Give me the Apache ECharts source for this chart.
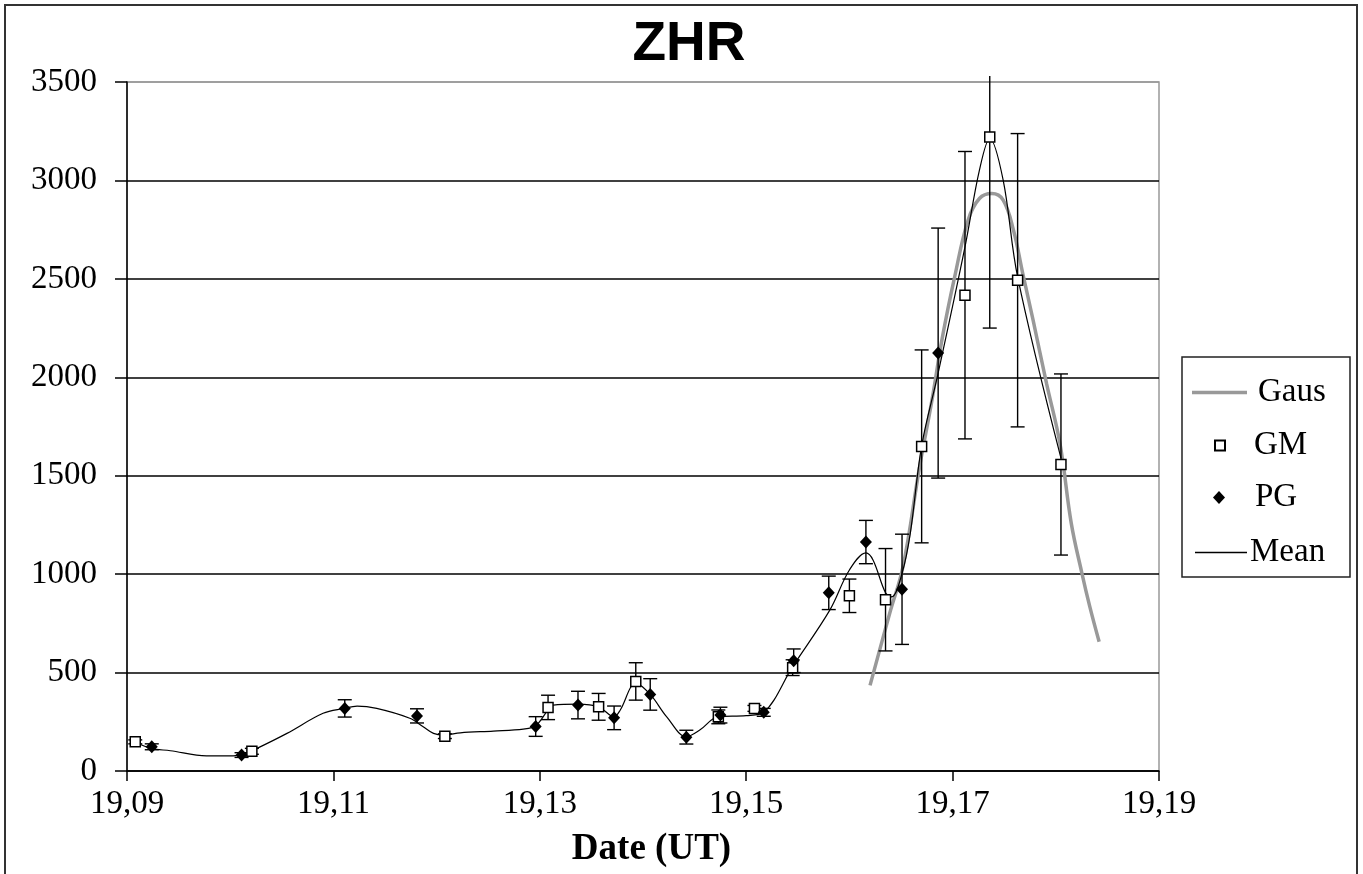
<!DOCTYPE html>
<html><head><meta charset="utf-8">
<script src="https://cdn.jsdelivr.net/npm/echarts@6/dist/echarts.min.js"></script>
<style>html,body{margin:0;padding:0;background:#fff}#c{width:1363px;height:874px}</style>
</head><body><div id="c"></div>
<script>
const titleText = 'ZHR';
const xAxisName = 'Date (UT)';
const xMin = 19.09, xMax = 19.19, xStep = 0.02;
const yMin = 0, yMax = 3500, yStep = 500;

// GM (open squares) with error bars
const gmX   = [19.0908, 19.1021, 19.1208, 19.1308, 19.1357, 19.1393, 19.1473, 19.1508, 19.1545, 19.1600, 19.1635, 19.1670, 19.1712, 19.1736, 19.1763, 19.1805];
const gmY   = [148, 100, 177, 323, 326, 455, 275, 318, 525, 890, 870, 1649, 2417, 3220, 2493, 1557];
const gmErr = [10, 15, 12, 62, 68, 95, 35, 15, 40, 85, 260, 490, 730, 970, 745, 460];

// PG (filled diamonds) with error bars
const pgX   = [19.0924, 19.1011, 19.1111, 19.1181, 19.1296, 19.1337, 19.1372, 19.1407, 19.1442, 19.1475, 19.1517, 19.1546, 19.1580, 19.1616, 19.1651, 19.1686];
const pgY   = [123, 81, 318, 280, 226, 335, 270, 389, 172, 284, 298, 560, 905, 1163, 923, 2123];
const pgErr = [15, 12, 44, 36, 50, 70, 60, 80, 35, 40, 20, 60, 85, 110, 280, 635];

// Gaus fit curve
const gausX = [19.1620, 19.1639, 19.1652, 19.1668, 19.1680, 19.1690, 19.1702, 19.1715, 19.1726, 19.1738, 19.1749, 19.1759, 19.1768, 19.1778, 19.1791, 19.1804, 19.1815, 19.1825, 19.1833, 19.1842];
const gausY = [435, 800, 1040, 1545, 1884, 2200, 2510, 2798, 2908, 2933, 2900, 2747, 2527, 2290, 1969, 1664, 1258, 1012, 834, 657];

// Mean curve
const meanX = [19.0908, 19.0923, 19.0942, 19.0977, 19.1003, 19.1013, 19.1026, 19.1055, 19.1090, 19.1110, 19.1123, 19.1142, 19.1174, 19.1187, 19.1197, 19.1207, 19.1223, 19.1255, 19.1284, 19.1296, 19.1308, 19.1313, 19.1337, 19.1357, 19.1372, 19.1378, 19.1393, 19.1407, 19.1423, 19.1442, 19.1455, 19.1473, 19.1500, 19.1517, 19.1545, 19.1581, 19.1600, 19.1616, 19.1623, 19.1635, 19.1641, 19.1651, 19.1659, 19.1670, 19.1686, 19.1712, 19.1726, 19.1736, 19.1749, 19.1763, 19.1805];
const meanY = [147, 115, 103, 77, 77, 86, 115, 191, 293, 318, 330, 318, 268, 225, 191, 183, 194, 203, 213, 230, 310, 335, 340, 326, 275, 310, 445, 389, 275, 174, 208, 276, 281, 298, 530, 817, 1021, 1108, 1071, 905, 885, 1004, 1207, 1652, 2021, 2662, 3052, 3213, 3001, 2510, 1589];

const serif = 'Liberation Serif, Times New Roman, serif';

function pairs(xs, ys){ return xs.map((x,i)=>[x, ys[i]]); }

function errorSeries(name, xs, ys, es){
  return {
    type: 'custom', name: name + ' err', silent: true, z: 2,
    encode: {x: 0, y: [1, 2]},
    data: xs.map((x,i)=>[x, ys[i]-es[i], ys[i]+es[i]]),
    renderItem: function(params, api){
      const x = api.value(0), lo = api.value(1), hi = api.value(2);
      const pLo = api.coord([x, lo]);
      const pHi = api.coord([x, hi]);
      const limit = params.coordSys.y - 6;
      let yHi = pHi[1], capTop = true;
      if (yHi < limit){ yHi = limit; capTop = false; }
      const w = 7, st = {stroke: '#000', lineWidth: 1.4};
      const ch = [
        {type:'line', shape:{x1:pLo[0], y1:pLo[1], x2:pLo[0], y2:yHi}, style:st},
        {type:'line', shape:{x1:pLo[0]-w, y1:pLo[1], x2:pLo[0]+w, y2:pLo[1]}, style:st}
      ];
      if (capTop) ch.push({type:'line', shape:{x1:pLo[0]-w, y1:yHi, x2:pLo[0]+w, y2:yHi}, style:st});
      return {type:'group', children: ch};
    }
  };
}

const chart = echarts.init(document.getElementById('c'), null, {renderer:'canvas'});
const legendText = {fontFamily:serif, fontSize:33, color:'#000'};
const legendBase = {orient:'vertical', padding:0, selectedMode:false, itemGap:0};
chart.setOption({
  animation: false,
  backgroundColor: '#fff',
  title: {text: titleText, left: 684, textAlign: 'center', top: 12,
    textStyle: {fontFamily: 'Liberation Sans, Arial, sans-serif', fontWeight: 'bold', fontSize: 55, color: '#000'}},
  grid: {left: 127, right: 204, top: 82, bottom: 103, show: true, borderColor: '#999', borderWidth: 1.5, backgroundColor: 'transparent'},
  graphic: [
    {type:'rect', shape:{x:5, y:5, width:1352, height:880}, style:{fill:'none', stroke:'#333', lineWidth:2}, z:-1, silent:true},
    {type:'rect', shape:{x:1182, y:357, width:168, height:220}, style:{fill:'#fff', stroke:'#222', lineWidth:1.5}, z:-1, silent:true}
  ],
  legend: [
    Object.assign({}, legendBase, {data:[{name:'Gaus', icon:'rect'}], left:1192, top:376, itemWidth:55, itemHeight:3.5,
      textStyle:Object.assign({}, legendText, {padding:[0,0,0,6]})}),
    Object.assign({}, legendBase, {data:[{name:'GM', icon:'rect'}], left:1214, top:429, itemWidth:10, itemHeight:10,
      textStyle:Object.assign({}, legendText, {padding:[0,0,0,24]})}),
    Object.assign({}, legendBase, {data:[{name:'PG', icon:'diamond'}], left:1213, top:481, itemWidth:12, itemHeight:13,
      textStyle:Object.assign({}, legendText, {padding:[0,0,0,25]})}),
    Object.assign({}, legendBase, {data:[{name:'Mean', icon:'rect'}], left:1195, top:536, itemWidth:52, itemHeight:1.5,
      textStyle:Object.assign({}, legendText, {padding:[0,0,0,-2]})})
  ],
  xAxis: {
    type: 'value', min: xMin, max: xMax, interval: xStep,
    name: xAxisName, nameLocation: 'middle', nameGap: 60,
    nameTextStyle: {fontFamily: serif, fontWeight: 'bold', fontSize: 37, color: '#000', padding: [0,0,0,17]},
    axisLine: {show: true, onZero: false, lineStyle: {color: '#000', width: 1.5}},
    axisTick: {show: true, inside: false, length: 10, lineStyle: {color: '#000', width: 1.5}},
    axisLabel: {fontFamily: serif, fontSize: 33, color: '#000', margin: 17,
      formatter: v => v.toFixed(2).replace('.', ',')},
    splitLine: {show: false}
  },
  yAxis: {
    type: 'value', min: yMin, max: yMax, interval: yStep,
    axisLine: {show: true, lineStyle: {color: '#000', width: 1.5}},
    axisTick: {show: true, inside: false, length: 12, lineStyle: {color: '#000', width: 1.5}},
    axisLabel: {fontFamily: serif, fontSize: 33, color: '#000', margin: 30, formatter: v => String(v)},
    splitLine: {show: true, lineStyle: {color: ['#000','#000','#000','#000','#000','#000','#000','#999'], width: 1.5}}
  },
  series: [
    {name:'Gaus', type:'line', data: pairs(gausX, gausY), smooth: 0.4, symbol:'none', z:1,
      lineStyle:{color:'#999', width:3.5}, itemStyle:{color:'#999'}},
    errorSeries('GM', gmX, gmY, gmErr),
    errorSeries('PG', pgX, pgY, pgErr),
    {name:'Mean', type:'line', data: pairs(meanX, meanY), smooth: 0.35, symbol:'none', z:3,
      lineStyle:{color:'#000', width:1.2}, itemStyle:{color:'#000'}},
    {name:'GM', type:'scatter', data: pairs(gmX, gmY), symbol:'rect', symbolSize:10, z:4,
      itemStyle:{color:'#fff', borderColor:'#000', borderWidth:1.5, opacity:1}},
    {name:'PG', type:'scatter', data: pairs(pgX, pgY), symbol:'diamond', symbolSize:[12,13], z:5,
      itemStyle:{color:'#000', opacity:1}}
  ]
});
</script></body></html>
